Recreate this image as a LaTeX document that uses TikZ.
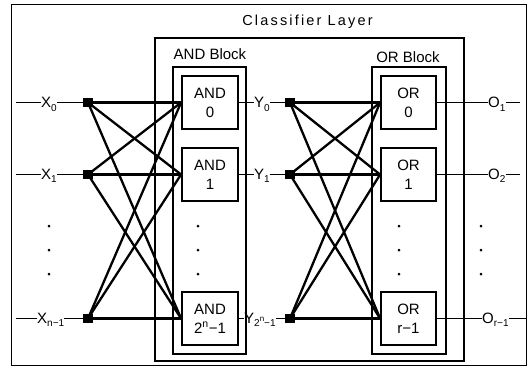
\documentclass[tikz,border=0pt]{standalone}
\usepackage{fontspec}
\setmainfont{Liberation Sans}
\newfontfamily\titlefont[LetterSpace=15]{Liberation Sans}
\newcommand{\sbs}[1]{\raisebox{-3.5pt}{\fontsize{10}{10}\selectfont #1}}
\begin{document}
\begin{tikzpicture}[x=1pt,y=-1pt,
  frame/.style={draw,line width=0.9pt},
  region/.style={draw,line width=1.4pt,inner sep=0pt},
  gate/.style={draw,line width=1.8pt,minimum width=56pt,minimum height=53pt,inner sep=0pt,align=center,font=\fontsize{15}{19}\selectfont},
  sq/.style={fill=black,minimum size=9.5pt,inner sep=0pt},
  wire/.style={line width=2.3pt},
  stub/.style={line width=1.3pt},
  outw/.style={line width=1.8pt},
  lab/.style={inner sep=0pt,font=\fontsize{15}{17}\selectfont},
  blab/.style={inner sep=0pt,font=\fontsize{15}{17}\selectfont},
  dot/.style={circle,fill=black,minimum size=3pt,inner sep=0pt}]
\useasboundingbox (0,0) rectangle (528,368);
% outer frame
\draw[frame] (11,4) rectangle (526,365);
% layer and blocks
\node[region,minimum width=309pt,minimum height=323pt] (layer) at (309.5,199.5) {};
\node[region,minimum width=73pt,minimum height=287pt] (andblk) at (209.5,210.5) {};
\node[region,minimum width=74pt,minimum height=287pt] (orblk) at (409,210.5) {};
\node[inner sep=0pt,font={\titlefont\fontsize{14.5}{16}\selectfont}] (title) at (307.5,22) {Classifier Layer};
\node[blab] (andlab) at (210,54.5) {AND Block};
\node[blab] (orlab) at (408,57) {OR Block};
% gates
\node[gate] (a0) at (210,102.5) {AND\\0};
\node[gate] (a1) at (210,174.5) {AND\\1};
\node[gate] (a2) at (210,318.5) {AND\\2\textsuperscript{n}−1};
\node[gate,minimum width=55pt] (o0) at (408.5,102.5) {OR\\0};
\node[gate,minimum width=55pt] (o1) at (408.5,174.5) {OR\\1};
\node[gate,minimum width=55pt] (o2) at (408.5,318.5) {OR\\r−1};
% input squares
\node[sq] (x0) at (88,102.5) {};
\node[sq] (x1) at (88,174.5) {};
\node[sq] (x2) at (88,318.5) {};
\node[sq] (y0) at (290,102.5) {};
\node[sq] (y1) at (290,174.5) {};
\node[sq] (y2) at (290,318.5) {};
% input labels
\node[lab,anchor=base west] (xl0) at (41,107.5) {X\sbs{0}};
\node[lab,anchor=base west] (xl1) at (41,179) {X\sbs{1}};
\node[lab,anchor=base west] (xl2) at (37,323) {X\sbs{n−1}};
\coordinate (xs0) at (16,102.5);
\coordinate (xs1) at (16,174.5);
\coordinate (xs2) at (16,318.5);
\draw[stub] (xs0) -- (xs0 -| xl0.west);
\draw[stub] (xl0.east |- x0) -- (x0);
\draw[stub] (xs1) -- (xs1 -| xl1.west);
\draw[stub] (xl1.east |- x1) -- (x1);
\draw[stub] (xs2) -- (xs2 -| xl2.west);
\draw[stub] (xl2.east |- x2) -- (x2);
% AND wires
\foreach \s in {x0,x1,x2}{
  \foreach \t in {a0,a1,a2}{
    \draw[wire] (\s.center) -- (\t.west);
  }
}
% Y labels
\node[lab,anchor=base west] (yl0) at (254,107.5) {Y\sbs{0}};
\node[lab,anchor=base west] (yl1) at (254,179) {Y\sbs{1}};
\node[lab,anchor=base west] (yl2) at (244,323) {Y\sbs{2\raisebox{5pt}{\fontsize{8}{8}\selectfont n}−1}};
\draw[stub] (a0.east) -- (a0.east -| yl0.west);
\draw[stub] (yl0.east |- y0) -- (y0);
\draw[stub] (a1.east) -- (a1.east -| yl1.west);
\draw[stub] (yl1.east |- y1) -- (y1);
\draw[stub] (a2.east) -- (a2.east -| yl2.west);
\draw[stub] (yl2.east |- y2) -- (y2);
% OR wires
\foreach \s in {y0,y1,y2}{
  \foreach \t in {o0,o1,o2}{
    \draw[wire] (\s.center) -- (\t.west);
  }
}
% outputs
\node[lab,anchor=base west] (ol0) at (488,107.5) {O\sbs{1}};
\node[lab,anchor=base west] (ol1) at (488,179) {O\sbs{2}};
\node[lab,anchor=base west] (ol2) at (482,323) {O\sbs{r−1}};
\coordinate (oe0) at (520,102.5);
\coordinate (oe1) at (520,174.5);
\coordinate (oe2) at (526,318.5);
\draw[outw] (o0.east) -- (o0.east -| ol0.west);
\draw[stub] (ol0.east |- oe0) -- (oe0);
\draw[outw] (o1.east) -- (o1.east -| ol1.west);
\draw[stub] (ol1.east |- oe1) -- (oe1);
\draw[outw] (o2.east) -- (o2.east -| ol2.west);
\draw[stub] (ol2.east |- oe2) -- (oe2);
% ellipsis dots
\foreach \xx/\nm in {49/l,198/a,399/o,481/r}{
  \node[dot] (\nm1) at (\xx,226) {};
  \node[dot] (\nm2) at (\xx,250) {};
  \node[dot] (\nm3) at (\xx,274) {};
}
\end{tikzpicture}
\end{document}
